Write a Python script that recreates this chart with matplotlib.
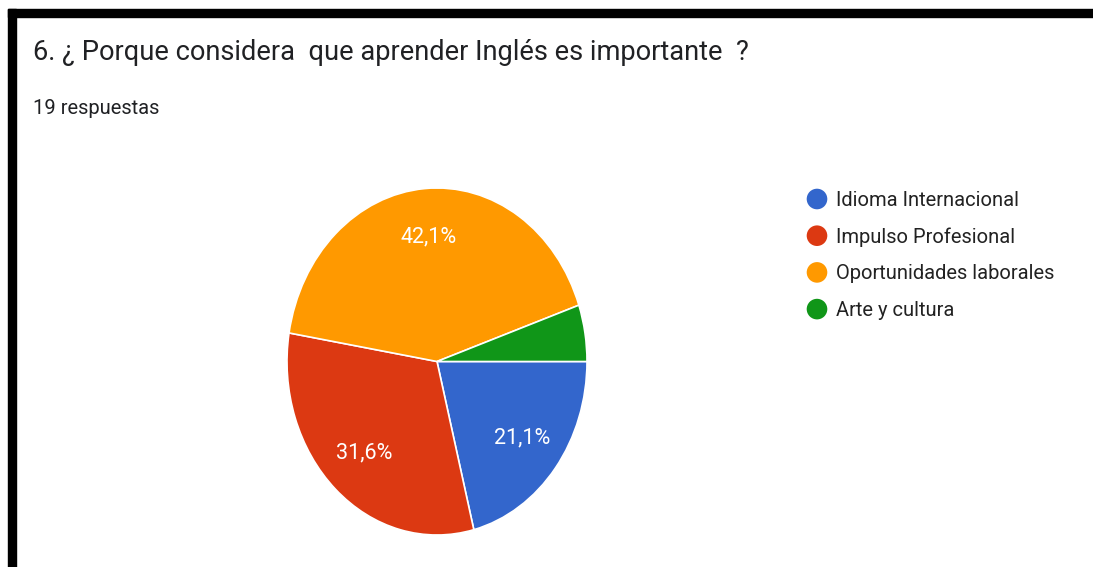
import matplotlib.pyplot as plt
from matplotlib.patches import Rectangle

# datos
categorias = ["Idioma Internacional", "Impulso Profesional",
              "Oportunidades laborales", "Arte y cultura"]
respuestas = [4, 6, 8, 1]
colores = ["#3366cc", "#dc3912", "#ff9900", "#109618"]
titulo = "6. ¿ Porque considera  que aprender Inglés es importante  ?"
subtitulo = "19 respuestas"

W, H = 1093, 567
fig = plt.figure(figsize=(W / 100, H / 100), dpi=100)
fig.patch.set_facecolor("white")

# capa en pixeles para textos, leyenda y bordes
bg = fig.add_axes([0, 0, 1, 1])
bg.set_xlim(0, W)
bg.set_ylim(H, 0)
bg.axis("off")

bg.add_patch(Rectangle((8, 9), W - 8, 8, color="black"))
bg.add_patch(Rectangle((8, 9), 8, H - 9, color="black"))

bg.text(33, 53, titulo, fontsize=19.6, family="Roboto", color="#202124",
        va="center", ha="left")
bg.text(33, 108, subtitulo, fontsize=14.5, family="Roboto", color="#202124",
        va="center", ha="left")

# leyenda
for i, (cat, col) in enumerate(zip(categorias, colores)):
    y = 199 + i * 36.7
    bg.scatter([817], [y], s=220, color=col, edgecolors="none")
    bg.text(836, y + 1.5, cat, fontsize=14.5, family="Roboto", color="#222222",
            va="center", ha="left")

# pastel
ax = fig.add_axes([287 / W, (H - 535) / H, 300 / W, 347 / H])
wedges, texts, autotexts = ax.pie(
    respuestas, colors=colores, startangle=0, counterclock=False,
    autopct=lambda p: f"{p:.1f}%".replace(".", ","), pctdistance=0.72,
    wedgeprops=dict(edgecolor="white", linewidth=1.2),
    textprops=dict(color="white", fontsize=15.5, family="Roboto"))
autotexts[3].set_text("")
ax.set_aspect("auto")
ax.set_xlim(-1, 1)
ax.set_ylim(-1, 1)

fig.savefig("out.png", dpi=100)
